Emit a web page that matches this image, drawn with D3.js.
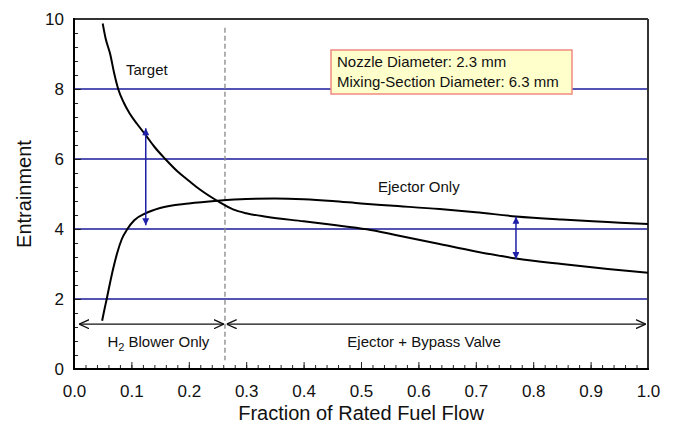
<!DOCTYPE html>
<html>
<head>
<meta charset="utf-8">
<script src="https://cdn.jsdelivr.net/npm/d3@7"></script>
<style>
  body { margin: 0; background: #fff; }
  text { font-family: "Liberation Sans", Arial, sans-serif; fill: #111; }
</style>
</head>
<body>
<script>
// ---- data ----
var targetX = [0.05, 0.055, 0.063, 0.07, 0.077, 0.087, 0.097, 0.11, 0.125, 0.14, 0.159, 0.18, 0.2, 0.22, 0.25, 0.277, 0.3, 0.335, 0.4, 0.45, 0.51, 0.56, 0.637, 0.7, 0.77, 0.85, 0.93, 1.0];
var targetY = [9.87, 9.45, 9.0, 8.45, 8.0, 7.6, 7.3, 7.0, 6.68, 6.35, 6.0, 5.65, 5.38, 5.12, 4.8, 4.56, 4.45, 4.35, 4.22, 4.12, 3.99, 3.83, 3.57, 3.36, 3.16, 3.0, 2.86, 2.75];

var ejectorX = [0.049, 0.053, 0.057, 0.062, 0.068, 0.075, 0.083, 0.093, 0.105, 0.125, 0.15, 0.2, 0.25, 0.3, 0.35, 0.4, 0.45, 0.5, 0.55, 0.637, 0.7, 0.77, 0.85, 0.93, 1.0];
var ejectorY = [1.38, 1.7, 2.0, 2.4, 2.85, 3.3, 3.7, 4.0, 4.25, 4.45, 4.6, 4.73, 4.81, 4.86, 4.87, 4.85, 4.8, 4.73, 4.67, 4.57, 4.48, 4.36, 4.27, 4.2, 4.14];

// blue double arrows showing the gap
var gapX = [0.125, 0.77];
var gapTop = [6.88, 4.35];
var gapBottom = [4.11, 3.14];

// operating regions
var regionStart = [0.009, 0.266];
var regionEnd = [0.261, 0.996];
var regionY = 1.28;
var switchX = 0.263;

var xTicks = [0, 0.1, 0.2, 0.3, 0.4, 0.5, 0.6, 0.7, 0.8, 0.9, 1.0];
var yTicks = [0, 2, 4, 6, 8, 10];
var gridY = [2, 4, 6, 8];

var width = 674,
    height = 424,
    margin = {top: 19, right: 26, bottom: 55, left: 74};

var x = d3.scaleLinear().domain([0, 1]).range([margin.left, width - margin.right]);
var y = d3.scaleLinear().domain([0, 10]).range([height - margin.bottom, margin.top]);

var svg = d3.select("body").append("svg")
    .attr("width", width)
    .attr("height", height);

var defs = svg.append("defs");
// filled blue heads
defs.append("marker")
    .attr("id", "blueHead")
    .attr("viewBox", "0 0 10 10")
    .attr("refX", 10).attr("refY", 5)
    .attr("markerWidth", 10).attr("markerHeight", 7)
    .attr("markerUnits", "userSpaceOnUse")
    .attr("orient", "auto-start-reverse")
  .append("path")
    .attr("d", "M0,0L10,5L0,10Z")
    .attr("fill", "#1f1fa8");
// open black chevrons
defs.append("marker")
    .attr("id", "openHead")
    .attr("viewBox", "0 0 10 10")
    .attr("refX", 10).attr("refY", 5)
    .attr("markerWidth", 10).attr("markerHeight", 10)
    .attr("markerUnits", "userSpaceOnUse")
    .attr("orient", "auto-start-reverse")
  .append("path")
    .attr("d", "M0,0.5L10,5L0,9.5")
    .attr("fill", "none")
    .attr("stroke", "#111")
    .attr("stroke-width", 1.3);

// grid lines
svg.append("g").selectAll("line")
    .data(gridY)
    .enter().append("line")
    .attr("x1", x(0)).attr("x2", x(1))
    .attr("y1", function(d) { return y(d); })
    .attr("y2", function(d) { return y(d); })
    .attr("stroke", "#1a1a9a")
    .attr("stroke-width", 1.4);

// minor ticks (inward)
var xMinor = d3.range(0, 1.0001, 0.02);
var yMinor = d3.range(0, 10.0001, 0.4);

svg.append("g")
    .attr("transform", "translate(0," + y(0) + ")")
    .call(d3.axisBottom(x).tickValues(xMinor).tickSize(-4).tickFormat(""))
    .call(function(g) { g.select(".domain").remove(); })
    .selectAll("line").attr("stroke", "#222");

svg.append("g")
    .attr("transform", "translate(" + x(0) + ",0)")
    .call(d3.axisLeft(y).tickValues(yMinor).tickSize(-4).tickFormat(""))
    .call(function(g) { g.select(".domain").remove(); })
    .selectAll("line").attr("stroke", "#222");

// major ticks + labels
var xAxis = svg.append("g")
    .attr("transform", "translate(0," + y(0) + ")")
    .call(d3.axisBottom(x).tickValues(xTicks).tickSize(-7).tickPadding(16).tickFormat(d3.format(".1f")));
xAxis.select(".domain").remove();
xAxis.selectAll("line").attr("stroke", "#222");
xAxis.selectAll("text")
    .style("font-size", "17px")
    .style("font-family", "'Liberation Sans', Arial, sans-serif")
    .attr("fill", "#111");

var yAxis = svg.append("g")
    .attr("transform", "translate(" + x(0) + ",0)")
    .call(d3.axisLeft(y).tickValues(yTicks).tickSize(-7).tickPadding(10));
yAxis.select(".domain").remove();
yAxis.selectAll("line").attr("stroke", "#222");
yAxis.selectAll("text")
    .style("font-size", "17px")
    .style("font-family", "'Liberation Sans', Arial, sans-serif")
    .attr("fill", "#111");

// frame: top and right a bit lighter
svg.append("line")
    .attr("x1", x(0)).attr("x2", x(1))
    .attr("y1", y(10)).attr("y2", y(10))
    .attr("stroke", "#333").attr("stroke-width", 2);
svg.append("line")
    .attr("x1", x(1)).attr("x2", x(1))
    .attr("y1", y(10)).attr("y2", y(0))
    .attr("stroke", "#333").attr("stroke-width", 2);
svg.append("line")
    .attr("x1", x(0)).attr("x2", x(1) + 1)
    .attr("y1", y(0)).attr("y2", y(0))
    .attr("stroke", "#000").attr("stroke-width", 2);
svg.append("line")
    .attr("x1", x(0)).attr("x2", x(0))
    .attr("y1", y(10) - 1).attr("y2", y(0) + 1)
    .attr("stroke", "#000").attr("stroke-width", 2);

// dashed switch-over line
svg.append("line")
    .attr("x1", x(switchX)).attr("x2", x(switchX))
    .attr("y1", y(9.75)).attr("y2", y(0.25))
    .attr("stroke", "#888")
    .attr("stroke-width", 1.3)
    .attr("stroke-dasharray", "5,3");

// curves
var line = d3.line()
    .x(function(d) { return x(d[0]); })
    .y(function(d) { return y(d[1]); })
    .curve(d3.curveMonotoneX);

svg.append("path")
    .datum(d3.zip(targetX, targetY))
    .attr("d", line)
    .attr("fill", "none")
    .attr("stroke", "#000")
    .attr("stroke-width", 2);

svg.append("path")
    .datum(d3.zip(ejectorX, ejectorY))
    .attr("d", line)
    .attr("fill", "none")
    .attr("stroke", "#000")
    .attr("stroke-width", 2);

// blue gap arrows
svg.append("g").selectAll("line")
    .data(d3.range(gapX.length))
    .enter().append("line")
    .attr("x1", function(i) { return x(gapX[i]); })
    .attr("x2", function(i) { return x(gapX[i]); })
    .attr("y1", function(i) { return y(gapTop[i]); })
    .attr("y2", function(i) { return y(gapBottom[i]); })
    .attr("stroke", "#1f1fa8")
    .attr("stroke-width", 1.5)
    .attr("marker-start", "url(#blueHead)")
    .attr("marker-end", "url(#blueHead)");

// region arrows
svg.append("g").selectAll("line")
    .data(d3.range(regionStart.length))
    .enter().append("line")
    .attr("x1", function(i) { return x(regionStart[i]); })
    .attr("x2", function(i) { return x(regionEnd[i]); })
    .attr("y1", y(regionY))
    .attr("y2", y(regionY))
    .attr("stroke", "#111")
    .attr("stroke-width", 1.3)
    .attr("marker-start", "url(#openHead)")
    .attr("marker-end", "url(#openHead)");

// labels
svg.append("text")
    .attr("x", 126).attr("y", 75)
    .style("font-size", "15px")
    .text("Target");

svg.append("text")
    .attr("x", 378).attr("y", 192)
    .style("font-size", "15px")
    .text("Ejector Only");

var h2 = svg.append("text")
    .attr("x", x(0.147)).attr("y", 347)
    .attr("text-anchor", "middle")
    .style("font-size", "15px");
h2.append("tspan").text("H");
h2.append("tspan").attr("dy", 4).style("font-size", "11px").text("2");
h2.append("tspan").attr("dy", -4).text(" Blower Only");

svg.append("text")
    .attr("x", x(0.61)).attr("y", 347)
    .attr("text-anchor", "middle")
    .style("font-size", "15px")
    .text("Ejector + Bypass Valve");

// parameter box
svg.append("rect")
    .attr("x", 331).attr("y", 50)
    .attr("width", 241).attr("height", 44)
    .attr("fill", "#ffffcc")
    .attr("stroke", "#f08a80")
    .attr("stroke-width", 1.5);
svg.append("text")
    .attr("x", 337).attr("y", 67)
    .style("font-size", "15px")
    .text("Nozzle Diameter: 2.3 mm");
svg.append("text")
    .attr("x", 337).attr("y", 87)
    .style("font-size", "15px")
    .text("Mixing-Section Diameter: 6.3 mm");

// axis titles
svg.append("text")
    .attr("x", (margin.left + width - margin.right) / 2)
    .attr("y", 420)
    .attr("text-anchor", "middle")
    .style("font-size", "20px")
    .text("Fraction of Rated Fuel Flow");

svg.append("text")
    .attr("transform", "translate(31," + y(5) + ") rotate(-90)")
    .attr("text-anchor", "middle")
    .style("font-size", "20px")
    .text("Entrainment");
</script>
</body>
</html>
